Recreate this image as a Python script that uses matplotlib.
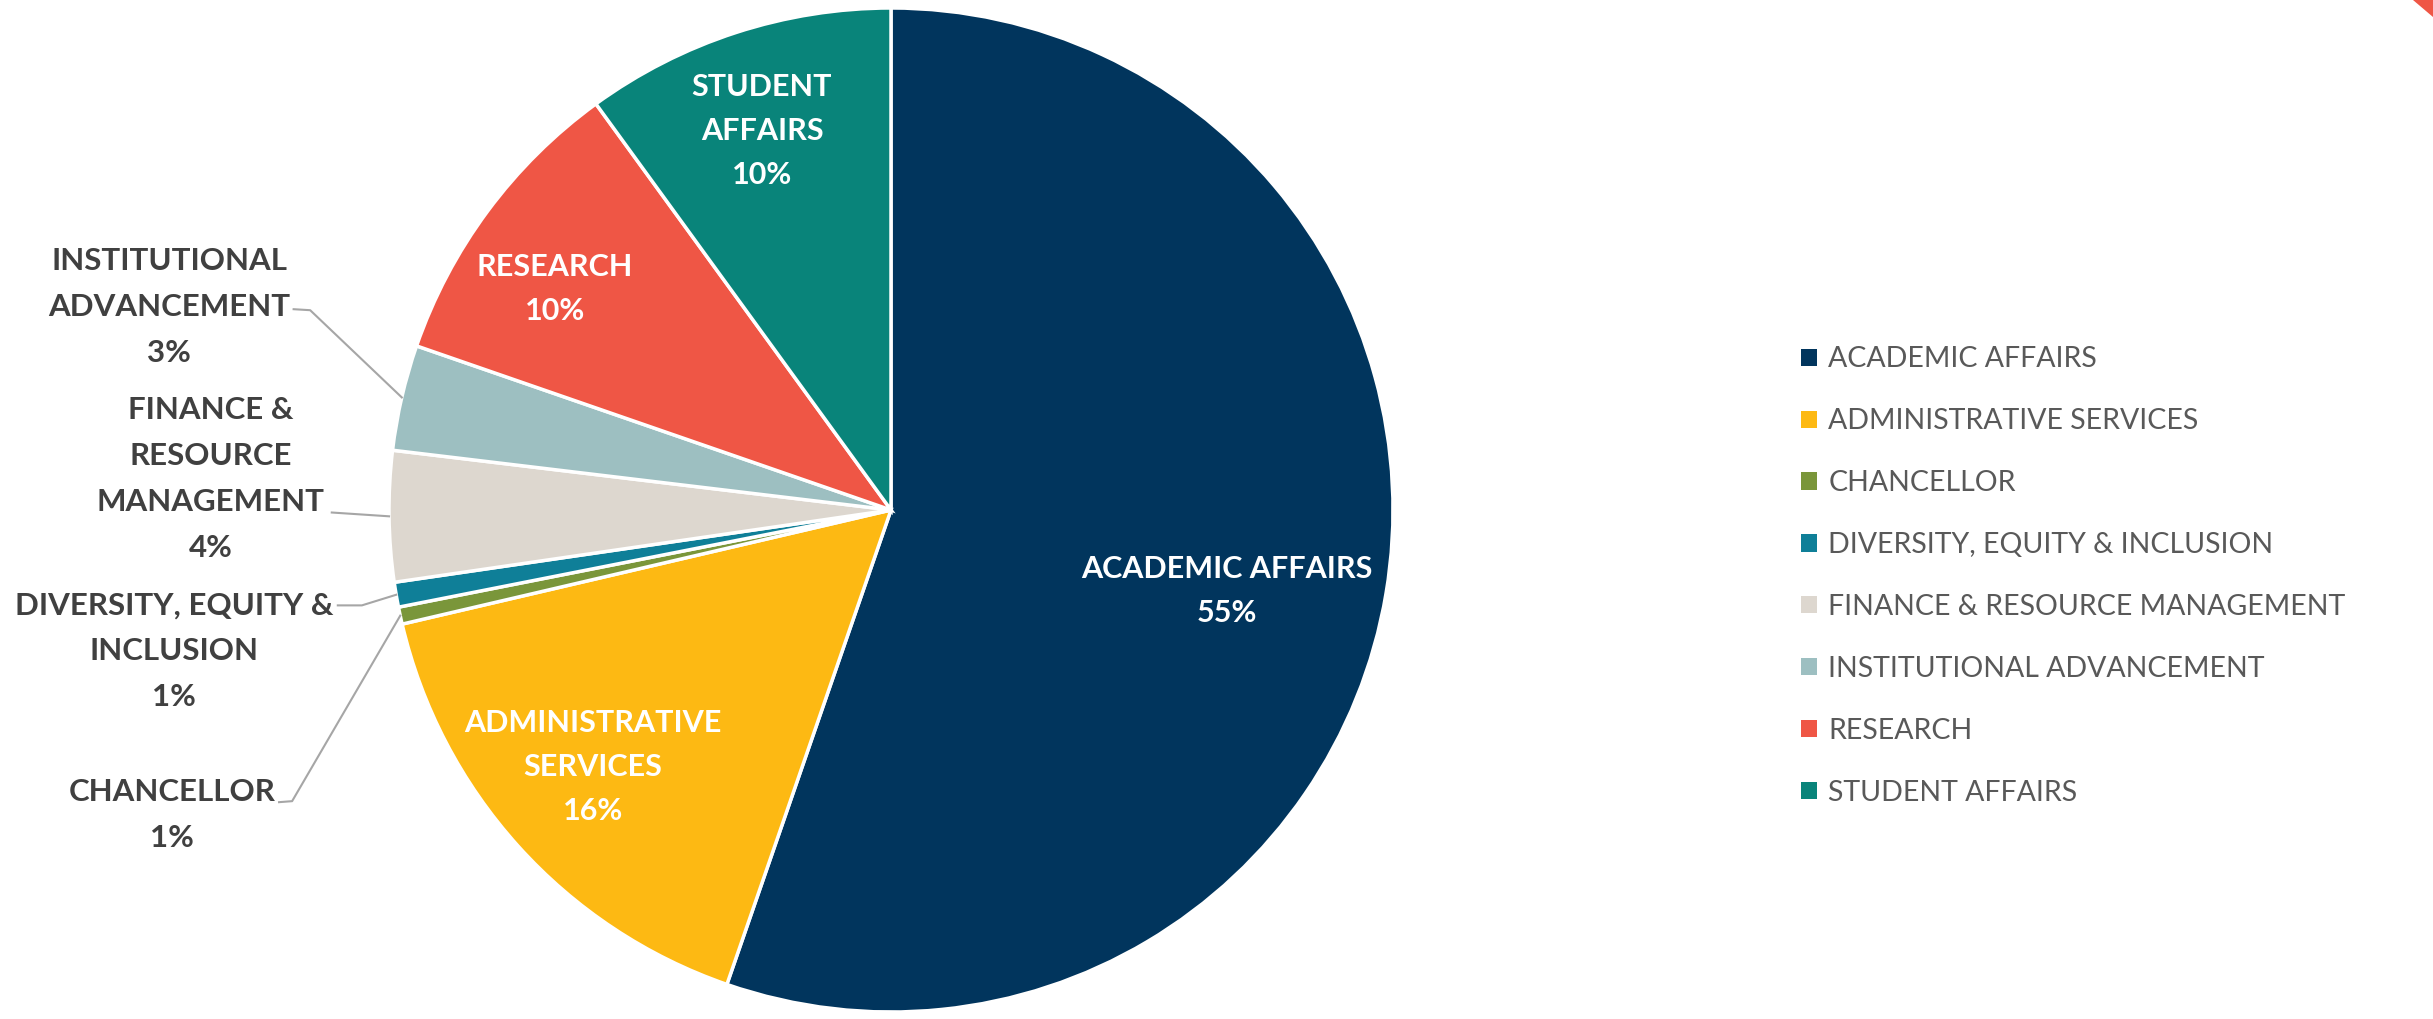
import matplotlib
matplotlib.use("Agg")
import matplotlib.pyplot as plt
from matplotlib.patches import Polygon
import numpy as np

categories = ["ACADEMIC AFFAIRS", "ADMINISTRATIVE SERVICES", "CHANCELLOR",
              "DIVERSITY, EQUITY & INCLUSION", "FINANCE & RESOURCE MANAGEMENT",
              "INSTITUTIONAL ADVANCEMENT", "RESEARCH", "STUDENT AFFAIRS"]
values = [55.3, 16.05, 0.55, 0.8, 4.2, 3.4, 9.7, 10.0]
pct_labels = ["55%", "16%", "1%", "1%", "4%", "3%", "10%", "10%"]
slice_names = ["ACADEMIC AFFAIRS", "ADMINISTRATIVE\nSERVICES", "CHANCELLOR",
               "DIVERSITY, EQUITY &\nINCLUSION", "FINANCE &\nRESOURCE\nMANAGEMENT",
               "INSTITUTIONAL\nADVANCEMENT", "RESEARCH", "STUDENT\nAFFAIRS"]
colors = ["#01355D", "#FDB913", "#7A963A", "#0F7F98", "#DDD7CF",
          "#9DBFC1", "#EF5645", "#09847A"]

W, H = 2433, 1019
fig = plt.figure(figsize=(W / 100, H / 100), dpi=100)
fig.patch.set_facecolor("white")

cx, cy, R = 891, 510, 502
ax = fig.add_axes([(cx - R) / W, 1 - (cy + R) / H, 2 * R / W, 2 * R / H])
wedges, _ = ax.pie(values, colors=colors, startangle=90, counterclock=False,
                   radius=1.0, wedgeprops=dict(edgecolor="white", linewidth=2.5))
ax.set_xlim(-1, 1)
ax.set_ylim(-1, 1)
ax.set_aspect("equal")
ax.axis("off")

FONT = "Lato"
inside = {0: (0.669, -0.161), 1: (-0.594, -0.512), 6: (-0.669, 0.440), 7: (-0.257, 0.755)}
outside = {5: (-1.438, 0.404), 4: (-1.355, 0.062), 3: (-1.428, -0.281), 2: (-1.432, -0.608)}
leader_start = {5: [(-1.190, 0.400), (-1.157, 0.398)],
                4: [(-1.114, -0.005)],
                3: [(-1.102, -0.190), (-1.054, -0.190)],
                2: [(-1.219, -0.582), (-1.193, -0.580)]}

for i, (x, y) in inside.items():
    ax.text(x, y, slice_names[i] + "\n" + pct_labels[i], ha="center", va="center",
            color="white", fontsize=22, fontweight="bold", family=FONT,
            linespacing=1.68)
for i, (x, y) in outside.items():
    ax.text(x, y, slice_names[i] + "\n" + pct_labels[i], ha="center", va="center",
            color="#404040", fontsize=22.5, fontweight="bold", family=FONT,
            linespacing=1.78, clip_on=False)
    w = wedges[i]
    mid = np.deg2rad((w.theta1 + w.theta2) / 2)
    pts = leader_start[i] + [(np.cos(mid), np.sin(mid))]
    xs, ys = zip(*pts)
    ax.plot(xs, ys, color="#A6A6A6", lw=1.5, clip_on=False)

leg = fig.legend(wedges, categories, loc="upper left",
                 bbox_to_anchor=(1790 / W, 1 - 335 / H), frameon=False,
                 prop=dict(family=FONT, size=20.5), labelcolor="#595959",
                 handlelength=0.55, handleheight=0.55, handletextpad=0.4,
                 labelspacing=1.26, borderaxespad=0)
for h in leg.legend_handles:
    h.set_linewidth(0)

# page corner decoration
fig.patches.append(Polygon([(2413 / W, 1.0), (1.0, 1.0), (1.0, 1 - 17 / H)],
                           closed=True, transform=fig.transFigure,
                           facecolor="#EF5645", edgecolor="none"))

fig.savefig("out.png", dpi=100, facecolor="white")
